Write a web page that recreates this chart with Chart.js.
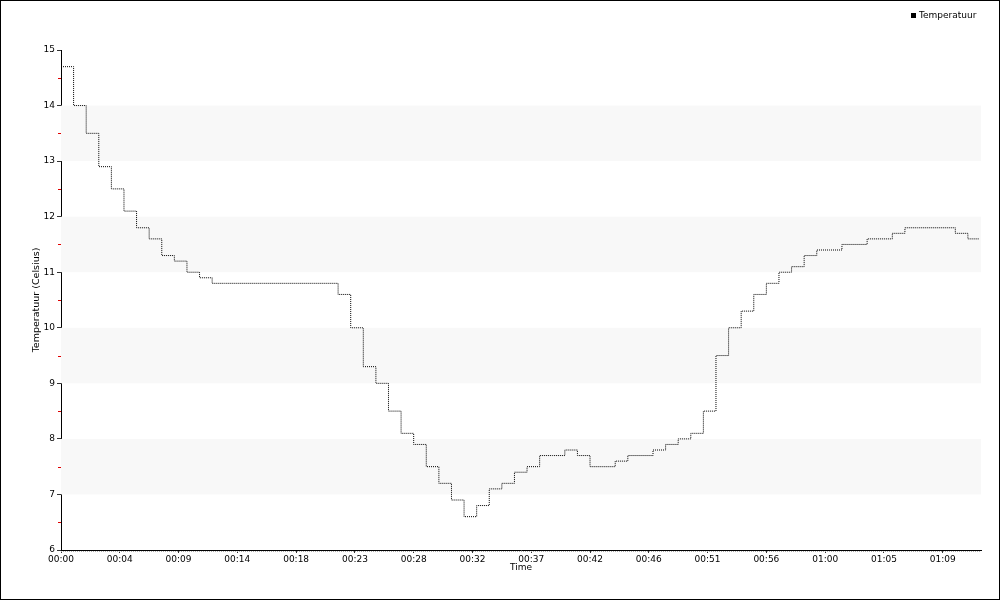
<!DOCTYPE html>
<html>
<head>
<meta charset="utf-8">
<script src="https://cdn.jsdelivr.net/npm/chart.js@4/dist/chart.umd.min.js"></script>
<style>
  html, body { margin: 0; padding: 0; background: #fff; }
  #wrap { width: 1000px; height: 600px; position: relative; }
</style>
</head>
<body>
<div id="wrap"><canvas id="c" width="1000" height="600"></canvas></div>
<script>
// ---- data ----
const seriesLabel = 'Temperatuur';
const minutes = [0,1,2,3,4,5,6,7,8,9,10,11,12,13,14,15,16,17,18,19,20,21,22,23,24,25,26,27,28,29,30,31,32,33,34,35,36,37,38,39,40,41,42,43,44,45,46,47,48,49,50,51,52,53,54,55,56,57,58,59,60,61,62,63,64,65,66,67,68,69,70,71,72,72.9];
const temps = [14.7,14.0,13.5,12.9,12.5,12.1,11.8,11.6,11.3,11.2,11.0,10.9,10.8,10.8,10.8,10.8,10.8,10.8,10.8,10.8,10.8,10.8,10.6,10.0,9.3,9.0,8.5,8.1,7.9,7.5,7.2,6.9,6.6,6.8,7.1,7.2,7.4,7.5,7.7,7.7,7.8,7.7,7.5,7.5,7.6,7.7,7.7,7.8,7.9,8.0,8.1,8.5,9.5,10.0,10.3,10.6,10.8,11.0,11.1,11.3,11.4,11.4,11.5,11.5,11.6,11.6,11.7,11.8,11.8,11.8,11.8,11.7,11.6,11.6];
const xTickValues = [0,4.6667,9.3333,14,18.6667,23.3333,28,32.6667,37.3333,42,46.6667,51.3333,56,60.6667,65.3333,70];
const xTickLabels = ['00:00','00:04','00:09','00:14','00:18','00:23','00:28','00:32','00:37','00:42','00:46','00:51','00:56','01:00','01:05','01:09'];
const xMin = 0, xMax = 73.04;
const yMin = 6, yMax = 15;

const points = minutes.map((m, i) => ({ x: m, y: temps[i] }));

Chart.defaults.font.family = "'DejaVu Sans', sans-serif";
Chart.defaults.font.size = 9;
Chart.defaults.color = '#000';

const decor = {
  id: 'decor',
  beforeDatasetsDraw(chart) {
    const { ctx, chartArea: a, scales: { y } } = chart;
    ctx.save();
    ctx.fillStyle = '#f8f8f8';
    for (let v = yMin; v < yMax; v++) {
      if (v % 2 === 1) {
        const top = y.getPixelForValue(v + 1), bot = y.getPixelForValue(v);
        ctx.fillRect(a.left, top, a.right - a.left, bot - top);
      }
    }
    ctx.restore();
  },
  afterDraw(chart) {
    const { ctx, chartArea: a, scales: { y } } = chart;
    ctx.save();
    // red minor ticks on y axis
    ctx.strokeStyle = '#e00000';
    ctx.lineWidth = 1;
    for (let v = yMin + 0.5; v < yMax; v += 1) {
      const py = Math.round(y.getPixelForValue(v)) + 0.5;
      ctx.beginPath(); ctx.moveTo(a.left - 3, py); ctx.lineTo(a.left, py); ctx.stroke();
    }
    // minor tick hatch under x axis
    ctx.strokeStyle = '#b0b0b0';
    ctx.setLineDash([1, 1]);
    ctx.beginPath(); ctx.moveTo(a.left, a.bottom + 1.5); ctx.lineTo(a.right, a.bottom + 1.5); ctx.stroke();
    ctx.setLineDash([]);
    // legend
    ctx.fillStyle = '#000';
    ctx.fillRect(911, 13, 5, 5);
    ctx.font = "9px 'DejaVu Sans', sans-serif";
    ctx.textBaseline = 'middle';
    ctx.textAlign = 'left';
    ctx.fillText(chart.data.datasets[0].label, 919, 15.5);
    // outer frame
    ctx.strokeStyle = '#000';
    ctx.strokeRect(0.5, 0.5, 999, 599);
    ctx.restore();
  }
};

new Chart(document.getElementById('c'), {
  type: 'line',
  data: {
    datasets: [{
      label: seriesLabel,
      data: points,
      borderColor: '#000',
      borderWidth: 1,
      borderDash: [1, 1],
      pointRadius: 0,
      stepped: 'before',
      fill: false
    }]
  },
  options: {
    responsive: false,
    animation: false,
    layout: { padding: { left: 0, top: 50, right: 19, bottom: 0 } },
    plugins: { legend: { display: false }, tooltip: { enabled: false } },
    scales: {
      x: {
        type: 'linear',
        min: xMin, max: xMax,
        afterBuildTicks(s) { s.ticks = xTickValues.map(v => ({ value: v })); },
        afterFit(s) { s.height = 50; s.paddingLeft = 0; s.paddingRight = 0; },
        ticks: {
          autoSkip: false, maxRotation: 0, padding: 1,
          callback: (v, i) => xTickLabels[i]
        },
        grid: { display: true, drawOnChartArea: false, tickLength: 3, color: '#333' },
        border: { display: true, color: '#000', width: 1 },
        title: { display: true, text: 'Time', padding: { top: 0, bottom: 27 }, font: { size: 9 } }
      },
      y: {
        min: yMin, max: yMax,
        afterFit(s) { s.width = 61; s.paddingTop = 0; s.paddingBottom = 0; },
        ticks: { stepSize: 1, padding: 2 },
        grid: { display: true, drawOnChartArea: false, tickLength: 4, color: '#333' },
        border: { display: true, color: '#000', width: 1 },
        title: { display: true, text: 'Temperatuur (Celsius)', padding: { top: 31, bottom: 0 }, font: { size: 9.5 } }
      }
    }
  },
  plugins: [decor]
});
</script>
</body>
</html>
